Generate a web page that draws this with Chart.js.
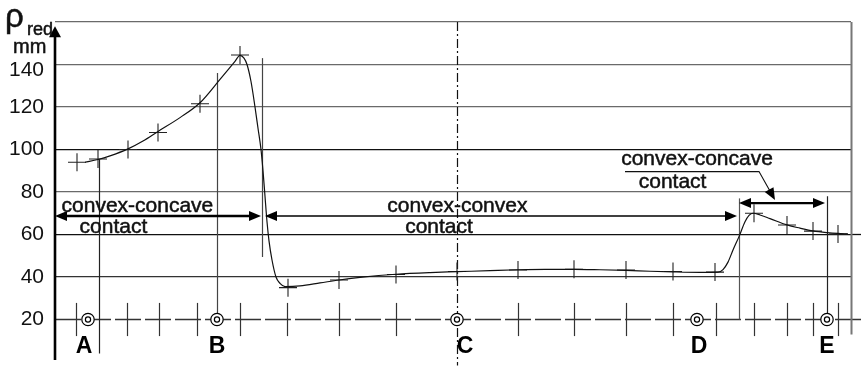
<!DOCTYPE html>
<html><head><meta charset="utf-8">
<script src="https://cdn.jsdelivr.net/npm/chart.js@4.4.0/dist/chart.umd.min.js"></script>
<style>html,body{margin:0;padding:0;background:#fff;}#wrap{width:864px;height:367px;position:relative;}</style>
</head><body><div id="wrap"><canvas id="c"></canvas></div>
<script>
// ---- data (x in arbitrary position units along the profile, y in mm) ----
const yTickValues = [0, 20, 40, 60, 80, 100, 120, 140, 160];
const yTickLabels = ['', '20', '40', '60', '80', '100', '120', '140', ''];

const curveX = [7.5, 10.75, 13.75, 18.25, 22, 25.75, 31.25, 36.25, 41.25, 45, 46.25, 47.25, 48, 49, 50, 50.75, 51.5, 52, 52.5, 53, 53.5, 54.25, 55.25, 56.25, 57.5, 61.25, 66.25, 71, 76.25, 85.25, 93.75, 100.5, 108.75, 115.75, 122.5, 129.75, 136.25, 142.75, 148.75, 154.5, 161.25, 165.75, 167, 168.25, 169.5, 171, 172.5, 173.5, 174.5, 176.25, 178.75, 183, 186.25, 189.5, 193, 195.75, 198.25];
const curveY = [94, 95.3, 97, 100.3, 104, 108.5, 115, 122, 133, 141.5, 144.3, 143, 140, 132, 120, 110, 100, 90, 78, 66, 57, 48, 40, 37, 35.5, 35.8, 37.2, 38.6, 39.8, 41.3, 42.1, 42.5, 43, 43.4, 43.6, 43.6, 43.4, 43.1, 42.7, 42.4, 42.2, 42.3, 43.5, 47, 52.7, 59, 66, 69, 70, 69.2, 67.5, 64.5, 63, 61.7, 60.9, 60.5, 60.3];

const markerX = [5.5, 10.75, 18.25, 25.75, 36.25, 46.25, 58.25, 71, 85.25, 100.5, 115.75, 129.75, 142.75, 154.5, 165, 174.75, 183, 189.5, 195.75];
const markerY = [94, 95.5, 100, 108, 121.5, 144.5, 35, 38.6, 41.2, 42.6, 43.3, 43.6, 43.3, 42.6, 42.3, 70, 64.5, 61.6, 60.2];

const stationX = [5.25, 18, 26, 35.5, 46.25, 58, 71, 85.25, 115.75, 129.75, 142.75, 154.5, 165.25, 174.75, 183, 189.5, 195.75];
const stationTop = 27.8, stationBottom = 12.2, baseLineValue = 20;

const pointNames = ['A', 'B', 'C', 'D', 'E'];
const pointX = [8.25, 40.5, 100.5, 160.5, 193];
const letterX = [7.25, 40.5, 102.5, 161, 193];
const letterY = 4.2;

const refLineX = [11, 40.5, 51.75, 171, 193, 199];
const refLineTop = [95.5, 136, 143, 77, 78, 160];
const refLineBottom = [4, 20, 49.4, 20, 20, 13];
const centerLineX = 100.5;

const regionLabels = ['convex-concave', 'contact', 'convex-convex', 'contact', 'convex-concave', 'contact'];
const regionLabelX = [20.6, 14.6, 100.6, 96, 160.5, 154.4];
const regionLabelY = [70.8, 60.7, 70.6, 60.7, 92.7, 81.9];

// double-headed range arrows
const rangeFrom = [0, 52.5, 171];
const rangeTo = [51.5, 170.5, 192.5];
const rangeY = [68.7, 68.7, 74.8];
// leader line for right label
const leaderX = [142.5, 176, 180];
const leaderY = [89.6, 89.6, 76.2];

const FONT = '"Liberation Sans", Arial, Helvetica, sans-serif';

function arrowHead(ctx, tx, ty, dx, dy, len, hw) {
  const l = Math.hypot(dx, dy); dx /= l; dy /= l;
  const bx = tx - dx * len, by = ty - dy * len;
  ctx.beginPath();
  ctx.moveTo(tx, ty);
  ctx.lineTo(bx - dy * hw, by + dx * hw);
  ctx.lineTo(bx + dy * hw, by - dx * hw);
  ctx.closePath();
  ctx.fill();
}

function heavyText(ctx, t, px, py) {
  ctx.fillText(t, px, py);
  ctx.strokeText(t, px, py);
}

const drawPlugin = {
  id: 'drawPlugin',
  beforeDatasetsDraw(chart) {
    const { ctx, scales: { x, y } } = chart;
    ctx.save();
    // base line at 20 (dashed)
    ctx.strokeStyle = '#333'; ctx.lineWidth = 1.3;
    ctx.setLineDash([26, 4]);
    ctx.beginPath();
    ctx.moveTo(x.getPixelForValue(0), y.getPixelForValue(baseLineValue));
    ctx.lineTo(x.getPixelForValue(201.5), y.getPixelForValue(baseLineValue));
    ctx.stroke();
    ctx.setLineDash([]);
    // 60 gridline extension
    ctx.strokeStyle = '#111'; ctx.lineWidth = 1.3;
    ctx.beginPath();
    ctx.moveTo(x.getPixelForValue(199), y.getPixelForValue(60));
    ctx.lineTo(x.getPixelForValue(201.5), y.getPixelForValue(60));
    ctx.stroke();
    // station ticks
    ctx.strokeStyle = '#333'; ctx.lineWidth = 1.2;
    stationX.forEach(v => {
      const px = Math.round(x.getPixelForValue(v)) + 0.5;
      ctx.beginPath();
      ctx.moveTo(px, y.getPixelForValue(stationTop));
      ctx.lineTo(px, y.getPixelForValue(stationBottom));
      ctx.stroke();
    });
    // reference vertical lines
    const cols = ['#222', '#444', '#444', '#555', '#222', '#777'];
    const widths = [1.2, 1.2, 1.2, 1.2, 1.2, 2];
    refLineX.forEach((v, i) => {
      ctx.strokeStyle = cols[i]; ctx.lineWidth = widths[i];
      const px = Math.round(x.getPixelForValue(v)) + 0.5;
      ctx.beginPath();
      ctx.moveTo(px, y.getPixelForValue(refLineTop[i]));
      ctx.lineTo(px, y.getPixelForValue(refLineBottom[i]));
      ctx.stroke();
    });
    // center dash-dot line
    ctx.strokeStyle = '#111'; ctx.lineWidth = 1.2;
    ctx.setLineDash([9, 3, 2, 3]);
    const cx = Math.round(x.getPixelForValue(centerLineX)) + 0.5;
    ctx.beginPath();
    ctx.moveTo(cx, y.getPixelForValue(160));
    ctx.lineTo(cx, y.getPixelForValue(-1.6));
    ctx.stroke();
    ctx.setLineDash([]);
    ctx.restore();
  },
  afterDatasetsDraw(chart) {
    const { ctx, scales: { x, y } } = chart;
    ctx.save();
    // y axis with arrow
    const ax = x.getPixelForValue(0);
    ctx.strokeStyle = '#000'; ctx.fillStyle = '#000'; ctx.lineWidth = 2.6;
    ctx.beginPath();
    ctx.moveTo(ax, y.getPixelForValue(0.9));
    ctx.lineTo(ax, y.getPixelForValue(158) + 8);
    ctx.stroke();
    arrowHead(ctx, ax, y.getPixelForValue(158), 0, -1, 11, 6);
    // circles
    ctx.lineWidth = 1.2;
    pointX.forEach(v => {
      const px = x.getPixelForValue(v), py = y.getPixelForValue(baseLineValue);
      ctx.fillStyle = '#fff';
      ctx.beginPath(); ctx.arc(px, py, 6.2, 0, Math.PI * 2); ctx.fill(); ctx.stroke();
      ctx.beginPath(); ctx.arc(px, py, 2.6, 0, Math.PI * 2); ctx.stroke();
    });
    // letters
    ctx.fillStyle = '#000';
    ctx.font = 'bold 23px ' + FONT;
    ctx.textAlign = 'center'; ctx.textBaseline = 'alphabetic';
    pointNames.forEach((n, i) => ctx.fillText(n, x.getPixelForValue(letterX[i]), y.getPixelForValue(letterY)));
    // range arrows
    const rw = [2.6, 1.6, 2.2];
    rangeFrom.forEach((f, i) => {
      const x1 = x.getPixelForValue(f), x2 = x.getPixelForValue(rangeTo[i]), py = y.getPixelForValue(rangeY[i]);
      ctx.strokeStyle = '#000'; ctx.lineWidth = rw[i];
      ctx.beginPath(); ctx.moveTo(x1 + 8, py); ctx.lineTo(x2 - 8, py); ctx.stroke();
      arrowHead(ctx, x1, py, -1, 0, 12, 5);
      arrowHead(ctx, x2, py, 1, 0, 12, 5);
    });
    // leader
    ctx.lineWidth = 1.1; ctx.strokeStyle = '#111';
    const lp = leaderX.map((v, i) => [x.getPixelForValue(v), y.getPixelForValue(leaderY[i])]);
    ctx.beginPath(); ctx.moveTo(lp[0][0], lp[0][1]); ctx.lineTo(lp[1][0], lp[1][1]);
    const dx = lp[2][0] - lp[1][0], dy = lp[2][1] - lp[1][1], dl = Math.hypot(dx, dy);
    ctx.lineTo(lp[2][0] - dx / dl * 8, lp[2][1] - dy / dl * 8); ctx.stroke();
    arrowHead(ctx, lp[2][0], lp[2][1], dx, dy, 12, 5);
    // region labels
    ctx.font = '21px ' + FONT; ctx.fillStyle = '#111'; ctx.strokeStyle = '#111'; ctx.lineWidth = 0.5;
    ctx.textAlign = 'center'; ctx.textBaseline = 'alphabetic';
    regionLabels.forEach((t, i) => heavyText(ctx, t, x.getPixelForValue(regionLabelX[i]), y.getPixelForValue(regionLabelY[i])));
    // y axis title
    const top = y.getPixelForValue(160);
    ctx.textAlign = 'left';
    ctx.font = '33px ' + FONT; heavyText(ctx, 'ρ', 5, top + 5);
    ctx.font = '18px ' + FONT; heavyText(ctx, 'red', 27, top + 13);
    ctx.font = '20px ' + FONT; heavyText(ctx, 'mm', 13, top + 31);
    ctx.restore();
  }
};

const gridColor = v => ({160: '#6a6a6a', 140: '#6a6a6a', 120: '#6a6a6a', 100: '#111', 80: '#6a6a6a', 60: '#111', 40: '#333'})[v] || 'rgba(0,0,0,0)';

new Chart(document.getElementById('c'), {
  type: 'scatter',
  data: {
    datasets: [
      {
        data: curveX.map((v, i) => ({ x: v, y: curveY[i] })),
        showLine: true, borderColor: '#111', borderWidth: 1.2,
        pointRadius: 0, cubicInterpolationMode: 'monotone', fill: false
      },
      {
        data: markerX.map((v, i) => ({ x: v, y: markerY[i] })),
        showLine: false, pointStyle: 'cross', pointRadius: 9,
        borderColor: '#222', borderWidth: 1.1, backgroundColor: '#222'
      }
    ]
  },
  options: {
    responsive: true, maintainAspectRatio: false, animation: false, devicePixelRatio: 1,
    layout: { autoPadding: false, padding: { left: 0, right: 13, top: 22, bottom: 5 } },
    plugins: { legend: { display: false }, tooltip: { enabled: false } },
    scales: {
      x: { type: 'linear', min: 0, max: 199, display: false },
      y: {
        type: 'linear', min: 0, max: 160,
        afterBuildTicks: s => { s.ticks = yTickValues.map(v => ({ value: v })); },
        afterFit: s => { s.width = 55; s.paddingTop = 0; s.paddingBottom = 0; },
        border: { display: false },
        grid: { drawTicks: false, lineWidth: 1.3, color: c => gridColor(c.tick && c.tick.value) },
        ticks: {
          padding: 11, color: '#111',
          font: c => ({ family: FONT, size: 21, lineHeight: (c.tick && c.tick.value === 140) ? 0.5 : 1.2 }),
          callback: v => { const l = yTickLabels[yTickValues.indexOf(v)]; return v === 140 ? ['', l] : l; }
        }
      }
    }
  },
  plugins: [drawPlugin]
});
</script>
</body></html>
